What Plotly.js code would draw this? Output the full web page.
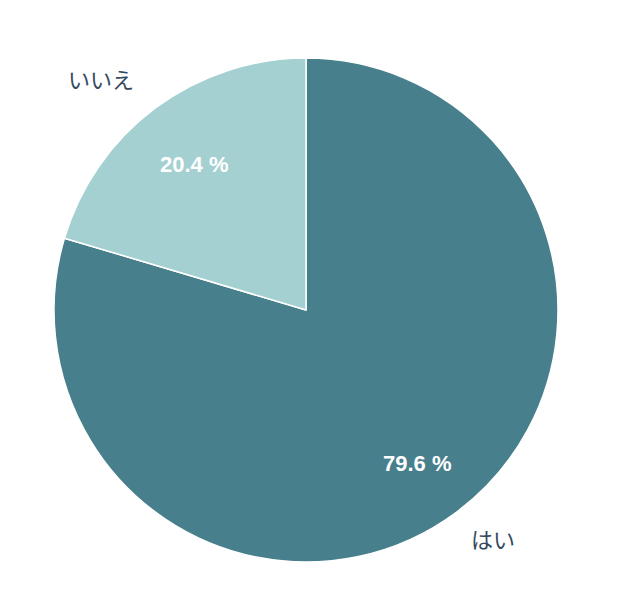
<!DOCTYPE html>
<html><head><meta charset="utf-8">
<script src="https://cdn.plot.ly/plotly-3.0.1.min.js"></script>
<style>body{margin:0;background:#fff}</style>
</head><body>
<div id="chart" style="width:628px;height:616px"></div>
<script>
const labels = ["はい", "いいえ"];
const values = [79.6, 20.4];
const colors = ["#47808c", "#a5d0d1"];

const trace = {
  type: "pie",
  labels: labels,
  values: values,
  sort: false,
  direction: "clockwise",
  rotation: 0,
  marker: {colors: colors, line: {color: "#ffffff", width: 1.5}},
  textinfo: "none",
  textposition: "none",
  hoverinfo: "label+percent",
  showlegend: false
};

// percentage labels placed along each slice's mid-angle (computed from the data)
const total = values.reduce((a, b) => a + b, 0);
const pctAnn = [];
let cum = 0;
values.forEach((v, i) => {
  const mid = (cum + v / 2) / total * 2 * Math.PI; // clockwise from top
  cum += v;
  const rr = 0.5 * 0.74;
  pctAnn.push({
    text: "<b>" + v.toFixed(1) + " %</b>",
    xref: "paper", yref: "paper",
    x: 0.5 + rr * Math.sin(mid), y: 0.5 + rr * Math.cos(mid),
    yshift: -4,
    showarrow: false, xanchor: "center", yanchor: "middle",
    font: {family: "Liberation Sans, Arial, sans-serif", size: 22, color: "#ffffff"}
  });
});

const labelFont = {family: "Noto Sans CJK JP", size: 22, color: "#34495e"};
const layout = {
  width: 628, height: 616,
  margin: {l: 54, r: 70, t: 58, b: 54},
  paper_bgcolor: "#ffffff",
  showlegend: false,
  annotations: pctAnn.concat([
    {text: labels[1], xref: "paper", yref: "paper", x: (101-54)/504, y: 1-(78-58)/504, showarrow: false,
     xanchor: "center", yanchor: "middle", font: labelFont},
    {text: labels[0], xref: "paper", yref: "paper", x: (493-54)/504, y: 1-(538-58)/504, showarrow: false,
     xanchor: "center", yanchor: "middle", font: labelFont}
  ])
};

Plotly.newPlot("chart", [trace], layout, {displayModeBar: false});
</script>
</body></html>
